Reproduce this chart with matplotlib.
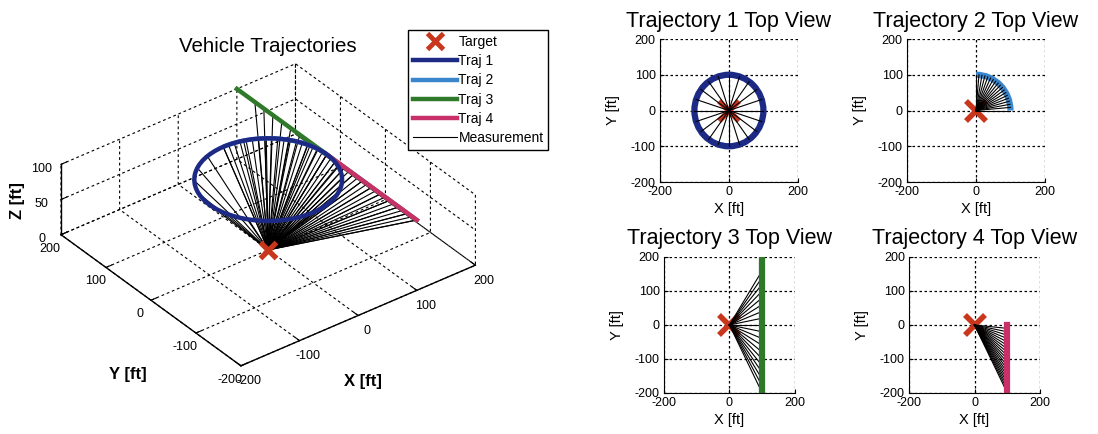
import numpy as np
import matplotlib
matplotlib.use("Agg")
import matplotlib.pyplot as plt
from matplotlib.patches import Circle, Arc
from matplotlib.lines import Line2D
import mpl_toolkits.mplot3d.art3d as art3d

plt.rcParams['font.family'] = ['Liberation Sans', 'DejaVu Sans']
plt.rcParams['axes.unicode_minus'] = False

# --- data (ft) ---
target = (0, 0, 0)
altitude = 100

traj1_radius = 100
traj1_meas_deg = [0, 18, 36, 54, 72, 90, 108, 126, 144, 162,
                  180, 198, 216, 234, 252, 270, 288, 306, 324, 342]

traj2_radius = 100
traj2_start_deg, traj2_end_deg = 0, 90
traj2_meas_deg = [0, 5, 10, 15, 20, 25, 30, 35, 40, 45,
                  50, 55, 60, 65, 70, 75, 80, 85, 90]

traj3_x = 100
traj3_y = [-200, 200]
traj3_meas_y = [160, 140, 120, 100, 80, 60, 40, 20, 0, -20,
                -40, -60, -80, -100, -120, -140, -160, -180, -200]

traj4_x = 100
traj4_y = [0, -200]
traj4_meas_y = [-10, -20, -30, -40, -50, -60, -70, -80, -90, -100,
                -110, -120, -130, -140, -150, -160, -170, -180, -190, -200]

colors = {'target': '#c8361c', 't1': '#1c2a86', 't2': '#3a86cc',
          't3': '#2f7a2a', 't4': '#c8306a'}

def polar_pts(r, degs):
    a = np.deg2rad(degs)
    return r * np.cos(a), r * np.sin(a)

t1_mx, t1_my = polar_pts(traj1_radius, traj1_meas_deg)
t2_mx, t2_my = polar_pts(traj2_radius, traj2_meas_deg)
t3_mx, t3_my = np.full(len(traj3_meas_y), traj3_x), np.array(traj3_meas_y)
t4_mx, t4_my = np.full(len(traj4_meas_y), traj4_x), np.array(traj4_meas_y)

fig = plt.figure(figsize=(10.98, 4.34), dpi=100)

# ---------------- 3D view ----------------
ax = fig.add_axes([-0.0414, -0.0392, 0.56, 1.06], projection='3d')
ax.set_proj_type('ortho')
ax.view_init(elev=34, azim=-127.5)
ax.set_box_aspect((1, 1, 0.287), zoom=0.9)

for axis in (ax.xaxis, ax.yaxis, ax.zaxis):
    axis.set_pane_color((1, 1, 1, 0))
    axis.pane.set_edgecolor((1, 1, 1, 0))
    axis._axinfo['grid'].update(color='k', linewidth=0.8, linestyle=(0, (2.5, 2.5)))
    axis._axinfo['tick']['inward_factor'] = 0.0
    axis._axinfo['tick']['outward_factor'] = 0.3
    axis.line.set_color('k')
    axis.line.set_linewidth(1.0)

# measurements
for mx, my in [(t1_mx, t1_my), (t2_mx, t2_my), (t3_mx, t3_my), (t4_mx, t4_my)]:
    for x, y in zip(mx, my):
        ax.plot([target[0], x], [target[1], y], [target[2], altitude], color='k', lw=0.8)

c1 = Circle((0, 0), traj1_radius, fill=False, ec=colors['t1'], lw=3.2)
ax.add_patch(c1)
art3d.pathpatch_2d_to_3d(c1, z=altitude, zdir='z')
a2 = Arc((0, 0), 2 * traj2_radius, 2 * traj2_radius, theta1=traj2_start_deg,
         theta2=traj2_end_deg, ec=colors['t2'], lw=3.2)
ax.add_patch(a2)
art3d.pathpatch_2d_to_3d(a2, z=altitude, zdir='z')
ax.plot([traj3_x, traj3_x], traj3_y, [altitude, altitude], color=colors['t3'], lw=3.2)
ax.plot([traj4_x, traj4_x], traj4_y, [altitude, altitude], color=colors['t4'], lw=3.2)
ax.plot([target[0]], [target[1]], [target[2]], 'x', color=colors['target'],
        ms=12, mew=3.8)

ax.set_xlim(-200, 200)
ax.set_ylim(-200, 200)
ax.set_zlim(0, 100)
ax.set_xticks([-200, -100, 0, 100, 200])
ax.set_yticks([-200, -100, 0, 100, 200])
ax.set_zticks([0, 50, 100])
ax.tick_params(labelsize=9, pad=0)

fig.text(0.244, 0.892, 'Vehicle Trajectories', fontsize=14.8, ha='center', va='center')
fig.text(0.0155, 0.537, 'Z [ft]', rotation=90, fontsize=12, fontweight='bold',
         ha='center', va='center')
fig.text(0.1166, 0.138, 'Y [ft]', fontsize=12, fontweight='bold', ha='center', va='center')
fig.text(0.3306, 0.122, 'X [ft]', fontsize=12, fontweight='bold', ha='center', va='center')

handles = [
    Line2D([], [], ls='none', marker='x', color=colors['target'], ms=11, mew=3.5),
    Line2D([], [], color=colors['t1'], lw=3.2),
    Line2D([], [], color=colors['t2'], lw=3.2),
    Line2D([], [], color=colors['t3'], lw=3.2),
    Line2D([], [], color=colors['t4'], lw=3.2),
    Line2D([], [], color='k', lw=0.8),
]
labels = ['Target', 'Traj 1', 'Traj 2', 'Traj 3', 'Traj 4', 'Measurement']
fig.legend(handles, labels, loc='upper right', bbox_to_anchor=(0.4995, 0.931),
           borderaxespad=0, fontsize=10, handlelength=3.2, handletextpad=0.1,
           fancybox=False, edgecolor='k', framealpha=1, borderpad=0.35,
           labelspacing=0.38)

# ---------------- top views ----------------
def top_view(rect, title, pad):
    a = fig.add_axes(rect)
    a.set_xlim(-200, 200)
    a.set_ylim(-200, 200)
    a.set_xticks([-200, 0, 200])
    a.set_yticks([-200, -100, 0, 100, 200])
    a.grid(True, color='k', ls=(0, (2, 2)), lw=0.9)
    a.spines['top'].set_visible(False)
    a.spines['right'].set_visible(False)
    a.tick_params(direction='in', labelsize=9, length=3, pad=3)
    a.set_xlabel('X [ft]', fontsize=10.5, labelpad=3)
    a.set_ylabel('Y [ft]', fontsize=10.5, labelpad=8)
    a.set_title(title, fontsize=15.5, pad=pad)
    a.set_axisbelow(True)
    return a

def draw_meas(a, mx, my):
    for x, y in zip(mx, my):
        a.plot([target[0], x], [target[1], y], color='k', lw=0.8)

def draw_target(a):
    a.plot(target[0], target[1], 'x', color=colors['target'], ms=14, mew=4, zorder=1.5)

ax1 = top_view([0.601, 0.5806, 0.1257, 0.3295], 'Trajectory 1 Top View', 8.5)
draw_target(ax1)
draw_meas(ax1, t1_mx, t1_my)
ax1.add_patch(Circle((0, 0), traj1_radius, fill=False, ec=colors['t1'], lw=4.5))

ax2 = top_view([0.826, 0.5806, 0.1257, 0.3295], 'Trajectory 2 Top View', 8.5)
draw_target(ax2)
draw_meas(ax2, t2_mx, t2_my)
ax2.add_patch(Arc((0, 0), 2 * traj2_radius, 2 * traj2_radius, theta1=traj2_start_deg,
                  theta2=traj2_end_deg, ec=colors['t2'], lw=4.5))

ax3 = top_view([0.6047, 0.0945, 0.1193, 0.3134], 'Trajectory 3 Top View', 9.5)
draw_target(ax3)
draw_meas(ax3, t3_mx, t3_my)
ax3.plot([traj3_x, traj3_x], traj3_y, color=colors['t3'], lw=4.5)

ax4 = top_view([0.8279, 0.0945, 0.1193, 0.3134], 'Trajectory 4 Top View', 9.5)
draw_target(ax4)
draw_meas(ax4, t4_mx, t4_my)
ax4.plot([traj4_x, traj4_x], traj4_y, color=colors['t4'], lw=4.5)

fig.savefig('out.png', dpi=100)
